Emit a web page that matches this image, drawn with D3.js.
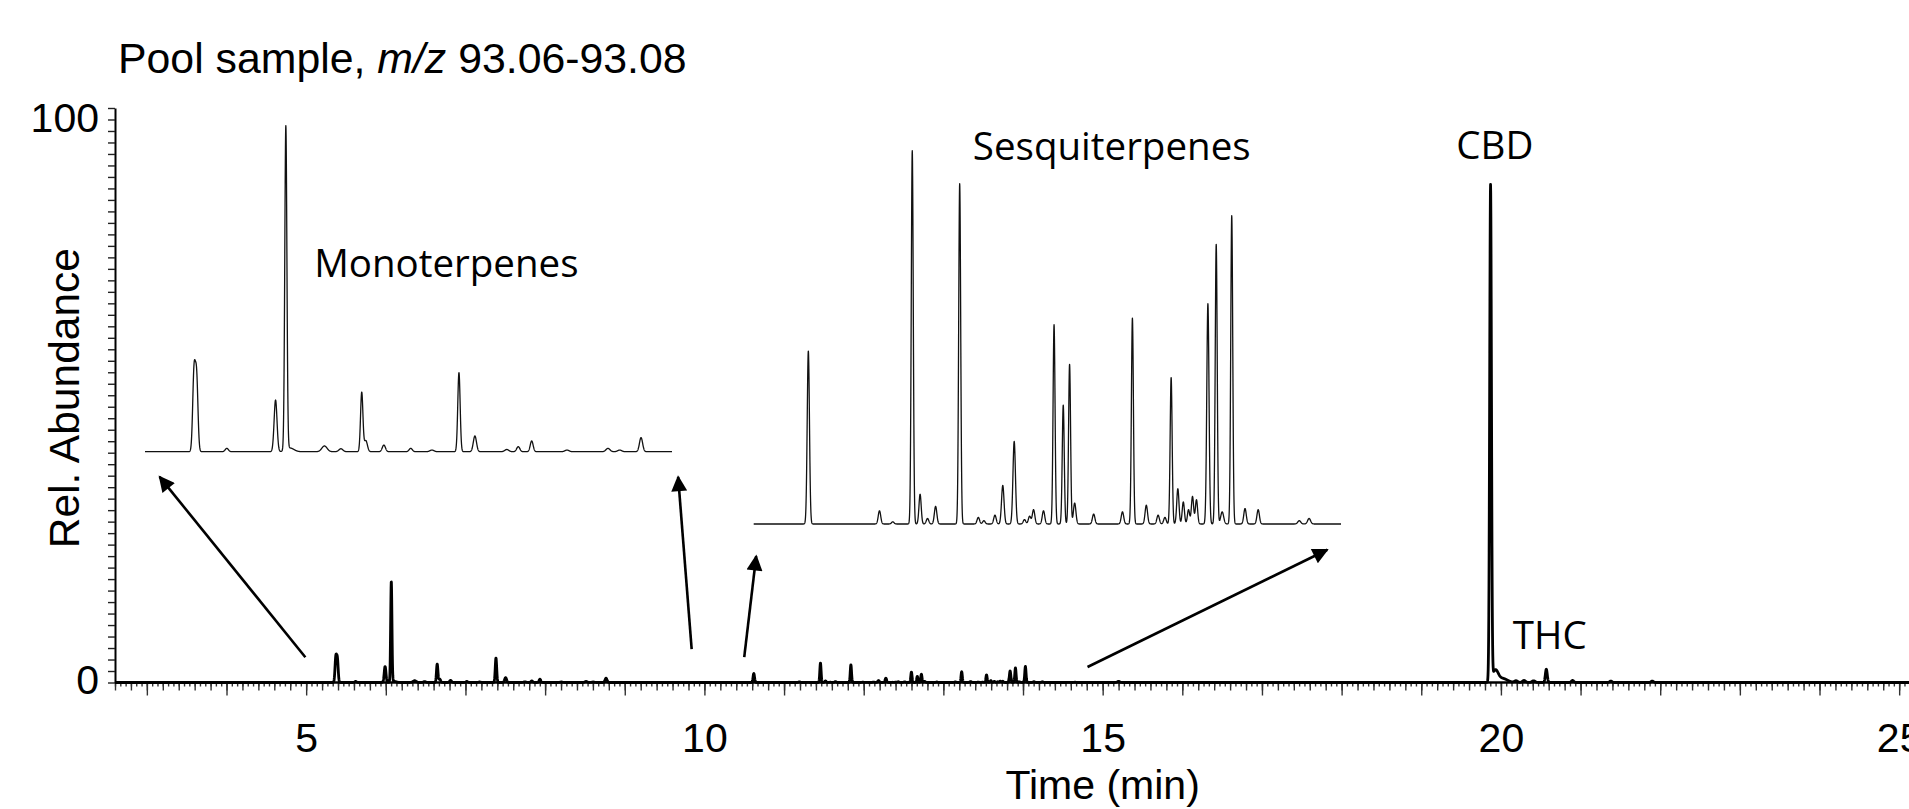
<!DOCTYPE html>
<html>
<head>
<meta charset="utf-8">
<script src="https://cdn.jsdelivr.net/npm/d3@7"></script>
<style>
    body { margin: 0; background: #fff; }
    svg { display: block; }
    .arial { font-family: 'Liberation Sans', Arial, sans-serif; font-size: 41px; fill: #000; white-space: pre; }
    .peak-label { font-family: 'Open Sans', sans-serif; font-size: 38.5px; fill: #000; }
</style>
</head>
<body>
<div id="chart"></div>
<script>

// axes: retention time (min) and relative abundance (%)
var timeDomain = [2.6, 25.5];
var abundanceDomain = [0, 100];
var xLabelValues = [5, 10, 15, 20, 25];
var yLabelValues = [0, 100];

// monoterpene peaks: time (min), height (%), peak sigma (min)
var monoTimes = [5.372, 5.392, 5.621, 5.991, 6.069, 6.10, 6.362, 6.487, 6.645, 6.676, 6.813, 7.017, 7.178,
    7.383, 7.504, 7.746, 7.833, 7.935, 8.203, 8.514, 8.603, 8.765];
var monoHeights = [4.2, 3.9, 0.18, 2.79, 17.5, 0.2, 0.31, 0.16, 3.2, 0.6, 0.36, 0.18, 0.09,
    4.27, 0.85, 0.12, 0.27, 0.58, 0.09, 0.18, 0.09, 0.76];
var monoWidths = [0.010, 0.010, 0.012, 0.011, 0.008, 0.03, 0.02, 0.015, 0.009, 0.012, 0.012, 0.012, 0.015,
    0.009, 0.012, 0.015, 0.012, 0.011, 0.015, 0.015, 0.015, 0.012];

// sesquiterpene peaks
var sesqTimes = [10.62, 11.193, 11.30, 11.457, 11.52, 11.58, 11.645, 11.839, 11.989, 12.034, 12.123, 12.186,
    12.278, 12.361, 12.402, 12.434, 12.514, 12.599, 12.673, 12.724, 12.765, 12.918, 13.15, 13.23, 13.342,
    13.437, 13.492, 13.542, 13.596, 13.64, 13.682, 13.714, 13.746, 13.838, 13.905, 13.953, 14.03, 14.137,
    14.243, 14.574, 14.653];
var sesqHeights = [1.57, 0.12, 0.02, 3.39, 0.27, 0.05, 0.16, 3.09, 0.06, 0.03, 0.08, 0.35,
    0.75, 0.04, 0.07, 0.13, 0.12, 1.81, 1.08, 1.45, 0.19, 0.09, 0.11, 1.87, 0.17,
    0.08, 0.06, 1.33, 0.32, 0.2, 0.13, 0.25, 0.22, 2.0, 2.54, 0.11, 2.8, 0.14,
    0.13, 0.03, 0.05];
var sesqWidths = [0.009, 0.01, 0.01, 0.008, 0.009, 0.01, 0.01, 0.008, 0.01, 0.01, 0.01, 0.01,
    0.01, 0.01, 0.01, 0.01, 0.01, 0.008, 0.008, 0.008, 0.01, 0.01, 0.01, 0.008, 0.01,
    0.01, 0.01, 0.008, 0.009, 0.009, 0.009, 0.009, 0.009, 0.009, 0.008, 0.012, 0.008, 0.01,
    0.01, 0.012, 0.012];

// cannabinoids and late peaks
var lateTimes = [15.2, 19.87, 19.93, 20.02, 20.19, 20.29, 20.41, 20.57, 20.9, 21.38, 21.9];
var lateHeights = [0.2, 86.2, 2.0, 0.7, 0.3, 0.35, 0.3, 2.3, 0.35, 0.25, 0.25];
var lateWidths = [0.015, 0.011, 0.035, 0.06, 0.02, 0.02, 0.02, 0.012, 0.015, 0.015, 0.015];

// annotations, in (time, %) of the main axes
var labelNames = ['Monoterpenes', 'Sesquiterpenes', 'CBD', 'THC'];
var labelTimes = [5.1, 13.37, 19.44, 20.15];
var labelLevels = [70.5, 91.0, 91.1, 5.8];

var arrowFrom = [[4.99, 4.4], [9.84, 5.8], [10.5, 4.4], [14.81, 2.7]];
var arrowTo = [[3.16, 35.8], [9.67, 35.8], [10.65, 22.0], [17.82, 23.1]];

var width = 1909,
    height = 809;

var svg = d3.select('#chart').append('svg')
    .attr('width', width)
    .attr('height', height);

var x = d3.scaleLinear().domain(timeDomain).range([115, 115 + (timeDomain[1] - timeDomain[0]) * 79.65]);
var y = d3.scaleLinear().domain(abundanceDomain).range([682.5, 108]);

var allTimes = monoTimes.concat(sesqTimes, lateTimes),
    allHeights = monoHeights.concat(sesqHeights, lateHeights),
    allWidths = monoWidths.concat(sesqWidths, lateWidths);

function signal(t) {
    var s = 0;
    for (var i = 0; i < allTimes.length; i++) {
        var z = (t - allTimes[i]) / allWidths[i];
        if (Math.abs(z) < 8) s += allHeights[i] * Math.exp(-0.5 * z * z);
    }
    return s;
}

function trace(t0, t1, step) {
    var n = Math.round((t1 - t0) / step);
    return d3.range(n + 1).map(function (i) {
        var t = t0 + i * step;
        return { t: t, v: signal(t) };
    });
}

// x axis: minor (1/15 min), medium (0.2 min), major (1 min)
function tickSet(per) {
    return d3.range(Math.ceil(timeDomain[0] * per), Math.floor(timeDomain[1] * per) + 1)
        .map(function (k) { return k / per; });
}

var xAxisG = svg.append('g').attr('transform', 'translate(0,' + y(0) + ')');

[[15, 4], [5, 8], [1, 13]].forEach(function (d) {
    xAxisG.append('g')
        .attr('class', 'xticks')
        .call(d3.axisBottom(x).tickValues(tickSet(d[0])).tickSize(d[1]).tickFormat('').tickSizeOuter(0))
        .call(function (g) { g.select('.domain').remove(); });
});
xAxisG.selectAll('.tick line').attr('stroke', '#333').attr('stroke-width', 1.4);

xAxisG.append('g')
    .call(d3.axisBottom(x).tickValues(xLabelValues).tickSize(0).tickPadding(40).tickFormat(d3.format('d')))
    .call(function (g) {
        g.select('.domain').remove();
        g.selectAll('text').attr('class', 'arial').attr('font-size', null).attr('font-family', null)
            .attr('fill', '#000');
    });

xAxisG.append('line')
    .attr('x1', x(timeDomain[0]))
    .attr('x2', x(timeDomain[1]))
    .attr('stroke', '#000')
    .attr('stroke-width', 2.6);

// y axis
var yAxisG = svg.append('g').attr('transform', 'translate(' + x(timeDomain[0]) + ',0)');
yAxisG.call(d3.axisLeft(y).tickValues(d3.range(0, 101, 2)).tickSize(7).tickFormat('').tickSizeOuter(0))
    .call(function (g) {
        g.select('.domain').attr('stroke', '#000').attr('stroke-width', 2);
        g.selectAll('.tick line').attr('stroke', '#222').attr('stroke-width', 1.4);
    });

yAxisG.selectAll('.ylab')
    .data(yLabelValues)
    .enter()
    .append('text')
    .attr('class', 'arial')
    .attr('text-anchor', 'end')
    .attr('x', -16)
    .attr('y', function (d) { return y(d); })
    .attr('dy', function (d) { return d === 100 ? '0.58em' : '0.27em'; })
    .text(function (d) { return d; });

// titles
var title = svg.append('text')
    .attr('class', 'arial')
    .style('font-size', '42.8px')
    .attr('x', 118)
    .attr('y', 73);
title.append('tspan').text('Pool sample, ');
title.append('tspan').attr('font-style', 'italic').text('m/z');
title.append('tspan').text(' 93.06-93.08');

svg.append('text')
    .attr('class', 'arial')
    .attr('text-anchor', 'middle')
    .attr('x', x(15))
    .attr('y', 799)
    .text('Time (min)');

svg.append('text')
    .attr('class', 'arial')
    .style('font-size', '42.5px')
    .attr('text-anchor', 'middle')
    .attr('transform', 'translate(79,' + y(49.5) + ') rotate(-90)')
    .text('Rel. Abundance');

// main chromatogram
var mainLine = d3.line()
    .x(function (d) { return x(d.t); })
    .y(function (d) { return y(d.v); });

svg.append('path')
    .datum(trace(timeDomain[0], timeDomain[1], 0.002))
    .attr('d', mainLine)
    .attr('fill', 'none')
    .attr('stroke', '#000')
    .attr('stroke-width', 2.8)
    .attr('stroke-linejoin', 'round');

// zoomed insets
var insets = [
    { t: [5.0, 9.0], px: [145, 672], v: [0, 17.5], py: [451.7, 127.7] },
    { t: [10.18, 14.91], px: [753.7, 1341], v: [0, 3.39], py: [524, 150.7] }
];

insets.forEach(function (inset) {
    var xi = d3.scaleLinear().domain(inset.t).range(inset.px),
        yi = d3.scaleLinear().domain(inset.v).range(inset.py);
    svg.append('path')
        .datum(trace(inset.t[0], inset.t[1], 0.001))
        .attr('d', d3.line().x(function (d) { return xi(d.t); }).y(function (d) { return yi(d.v); }))
        .attr('fill', 'none')
        .attr('stroke', '#111')
        .attr('stroke-width', 1.3)
        .attr('stroke-linejoin', 'round');
});

// arrows
svg.append('defs').append('marker')
    .attr('id', 'head')
    .attr('viewBox', '0 0 10 10')
    .attr('refX', 9)
    .attr('refY', 5)
    .attr('markerUnits', 'userSpaceOnUse')
    .attr('markerWidth', 22)
    .attr('markerHeight', 16)
    .attr('orient', 'auto')
    .append('path')
    .attr('d', 'M0,0L10,5L0,10z')
    .attr('fill', '#000');

svg.selectAll('.arrow')
    .data(arrowFrom)
    .enter()
    .append('line')
    .attr('class', 'arrow')
    .attr('x1', function (d) { return x(d[0]); })
    .attr('y1', function (d) { return y(d[1]); })
    .attr('x2', function (d, i) { return x(arrowTo[i][0]); })
    .attr('y2', function (d, i) { return y(arrowTo[i][1]); })
    .attr('stroke', '#000')
    .attr('stroke-width', 2.6)
    .attr('marker-end', 'url(#head)');

// peak group labels
svg.selectAll('.peak-label')
    .data(labelNames)
    .enter()
    .append('text')
    .attr('class', 'peak-label')
    .attr('x', function (d, i) { return x(labelTimes[i]); })
    .attr('y', function (d, i) { return y(labelLevels[i]); })
    .text(function (d) { return d; });

</script>
</body>
</html>
